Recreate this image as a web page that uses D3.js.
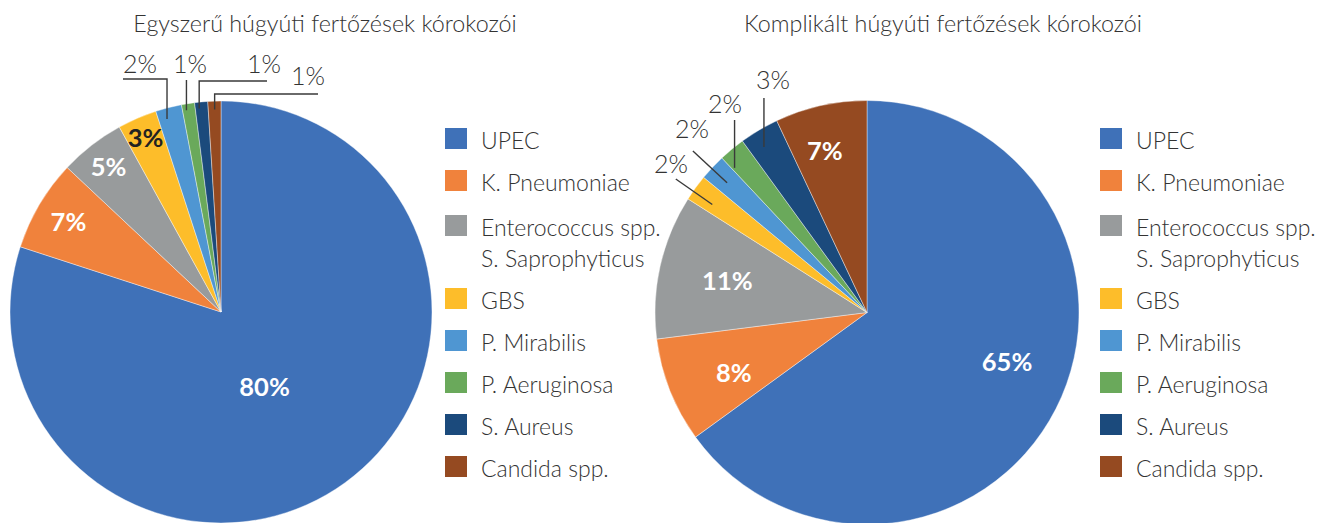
<!DOCTYPE html>
<html>
<head>
<meta charset="utf-8">
<script src="https://cdn.jsdelivr.net/npm/d3@7"></script>
<style>
  html, body { margin: 0; padding: 0; background: #fff; }
  svg { display: block; }
</style>
</head>
<body>
<svg id="chart" width="1327" height="523"></svg>
<script>
// ---------- data ----------
const categories = ["UPEC", "K. Pneumoniae", "Enterococcus spp.|S. Saprophyticus", "GBS",
                    "P. Mirabilis", "P. Aeruginosa", "S. Aureus", "Candida spp."];
const simpleValues = [80, 7, 5, 3, 2, 1, 1, 1];
const complicatedValues = [65, 8, 11, 2, 2, 2, 3, 7];
const titles = ["Egyszerű húgyúti fertőzések kórokozói", "Komplikált húgyúti fertőzések kórokozói"];
const colors = ["#3f71b8", "#f0823c", "#989b9c", "#fdbd2a", "#4f96d2", "#6aa95b", "#1b4a7c", "#954a21"];

// ---------- layout (not data) ----------
const FONT = "Lato, 'Open Sans', sans-serif";
const charts = [
  {
    values: simpleValues, title: titles[0], titleX: 325,
    cx: 221, cy: 312, r: 211, legendX: 445,
    inside: { 0: {rf: 0.41, af: 0.52, color: "#fff"}, 1: {rf: 0.84, af: 0.5, color: "#fff"},
              2: {rf: 0.87, af: 0.5, color: "#fff"}, 3: {rf: 0.9, af: 0.5, color: "#222"} },
    outside: [
      {i: 4, type: "elbow", af: 0.33, rs: 0.95, elbowY: 79, endX: 123, tx: 140, ty: 73},
      {i: 5, type: "vertical", af: 0.3, rs: 0.97, endY: 80, tx: 190, ty: 73},
      {i: 6, type: "elbow", af: 0.3, rs: 0.97, elbowY: 81, endX: 267, tx: 264, ty: 73},
      {i: 7, type: "elbow", af: 0.5, rs: 0.96, elbowY: 94, endX: 318, tx: 308, ty: 85}
    ]
  },
  {
    values: complicatedValues, title: titles[1], titleX: 943,
    cx: 867, cy: 312.5, r: 212, legendX: 1100,
    inside: { 0: {rf: 0.7, af: 0.467, color: "#fff"}, 1: {rf: 0.69, af: 0.4, color: "#fff"},
              2: {rf: 0.675, af: 0.5, color: "#fff"}, 7: {rf: 0.79, af: 0.42, color: "#fff"} },
    outside: [
      {i: 3, type: "radial", af: 0.35, rs: 0.89, re: 1.1, tx: 671, ty: 173},
      {i: 4, type: "radial", af: 0.45, rs: 0.9, re: 1.12, tx: 692, ty: 138},
      {i: 5, type: "vertical", af: 0.1, rs: 0.925, endY: 120, tx: 725, ty: 113},
      {i: 6, type: "vertical", af: 0.38, rs: 0.92, endY: 98, tx: 773, ty: 89}
    ]
  }
];
const legendRowY = [128, 170, 215, 288, 330, 372, 414, 456];

const svg = d3.select("#chart");
const pie = d3.pie().sort(null).value(d => d);
const polar = (cx, cy, a, r) => [cx + Math.sin(a) * r, cy - Math.cos(a) * r];

charts.forEach(ch => {
  const g = svg.append("g");
  const arcs = pie(ch.values);
  const arc = d3.arc().innerRadius(0).outerRadius(ch.r);

  // title
  g.append("text")
    .attr("x", ch.titleX).attr("y", 32)
    .attr("text-anchor", "middle")
    .style("font-family", FONT).style("font-weight", 300)
    .style("font-size", "23.3px").style("fill", "#333")
    .text(ch.title);

  // slices
  const pg = g.append("g").attr("transform", `translate(${ch.cx},${ch.cy})`);
  pg.selectAll("path").data(arcs).join("path")
    .attr("d", arc)
    .attr("fill", (d, i) => colors[i])
    .attr("stroke", "#fff").attr("stroke-width", 0.4);

  // inside labels
  arcs.forEach((d, i) => {
    const cfg = ch.inside[i];
    if (!cfg) return;
    const a = d.startAngle + (d.endAngle - d.startAngle) * cfg.af;
    const [x, y] = polar(ch.cx, ch.cy, a, ch.r * cfg.rf);
    g.append("text")
      .attr("x", x).attr("y", y).attr("dy", "0.36em")
      .attr("text-anchor", "middle")
      .style("font-family", FONT).style("font-weight", 700)
      .style("font-size", "25.5px").style("fill", cfg.color)
      .text(d.data + "%");
  });

  // outside labels with leader lines
  ch.outside.forEach(o => {
    const d = arcs[o.i];
    const a = d.startAngle + (d.endAngle - d.startAngle) * o.af;
    const s = polar(ch.cx, ch.cy, a, ch.r * o.rs);
    let pts;
    if (o.type === "elbow") pts = [s, [s[0], o.elbowY], [o.endX, o.elbowY]];
    else if (o.type === "vertical") pts = [s, [s[0], o.endY]];
    else pts = [s, polar(ch.cx, ch.cy, a, ch.r * o.re)];
    g.append("path")
      .attr("d", d3.line()(pts))
      .attr("fill", "none").attr("stroke", "#3a3a3a").attr("stroke-width", 1.4);
    g.append("text")
      .attr("x", o.tx).attr("y", o.ty)
      .attr("text-anchor", "middle")
      .style("font-family", FONT).style("font-weight", 300)
      .style("font-size", "25px").style("fill", "#333")
      .text(d.data + "%");
  });

  // legend
  const lg = g.append("g");
  categories.forEach((c, i) => {
    const y = legendRowY[i];
    lg.append("rect").attr("x", ch.legendX).attr("y", y).attr("width", 22).attr("height", 21)
      .attr("fill", colors[i]);
    const lines = c.split("|");
    const t = lg.append("text")
      .attr("x", ch.legendX + 36).attr("y", y + 21)
      .style("font-family", FONT).style("font-weight", 300)
      .style("font-size", "23px").style("fill", "#333");
    lines.forEach((ln, k) => {
      t.append("tspan").attr("x", ch.legendX + 36).attr("dy", k === 0 ? 0 : 31).text(ln);
    });
  });
});
</script>
</body>
</html>
